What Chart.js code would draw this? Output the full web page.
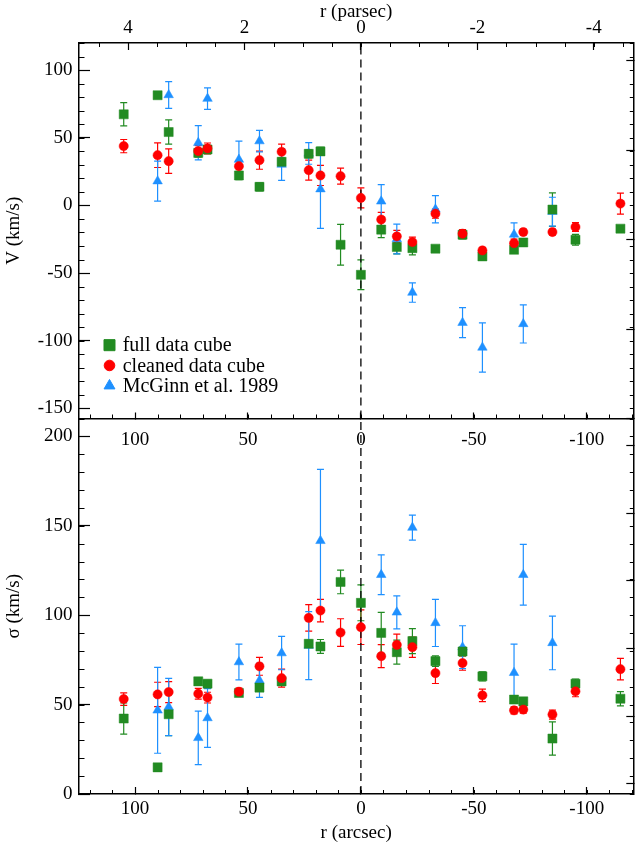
<!DOCTYPE html>
<html>
<head>
<meta charset="utf-8">
<script src="https://cdn.jsdelivr.net/npm/chart.js@4"></script>
<style>
html,body{margin:0;padding:0;background:#fff}
#wrap{width:643px;height:848px;position:relative}
</style>
</head>
<body>
<div id="wrap"><canvas id="c"></canvas></div>
<script>
// slit positions (arcsec) shared by both data cubes
const rCube=[105,90,85.1,72,67.9,54,44.9,35.1,23.1,17.9,9,0,-9,-15.9,-22.8,-33,-45,-53.8,-67.8,-71.9,-84.8,-95,-114.9];
const vFull=[67.3,81.4,54.2,38.8,41.3,22.1,13.7,32.2,38.1,39.9,-29.1,-51.3,-17.9,-30.8,-31.6,-32,-21.7,-37.7,-32.8,-27.4,-3.1,-25.4,-17.2];
const vFullErr=[8.6,1.5,9,3,3,3,3,3,3,3,15,11,6,5,5,1.5,3,2,2,2,12.4,4,1.5];
const vClean=[43.8,37.1,32.7,40.1,42.1,29,33.4,39.6,26,22.1,21.6,5.5,-10.5,-22.9,-27.1,-6.1,-20.9,-33.3,-27.9,-19.7,-19.7,-16,1.3];
const vCleanErr=[4.9,9.1,9.1,4,4,4,6.7,5.7,7.4,7.4,5.9,7.4,5.4,4.4,3.7,3.4,3,2.2,3,2.2,2.2,3.2,7.8];
const sFull=[42.2,14.9,44.6,63,61.7,56.5,59.5,63,84,82.5,118.6,106.9,90.1,79.3,85.5,74.3,79.7,65.8,52.8,51.8,31,61.7,53.3];
const sFullErr=[8.7,1,12,2,2,1.5,2,2,2,3.9,6.6,10,11.5,6.7,7,3,2.5,2.5,1.5,1.5,9.3,2.5,4];
const sClean=[53.1,55.7,57,56.1,53.9,57.2,71.4,64.8,98.5,102.6,90.3,93.3,77.1,83.4,82.1,67.6,73.2,55.2,46.8,47.2,44.4,57.4,69.8];
const sCleanErr=[3.5,6.8,5.9,3,3,2,5,5,7.4,6.3,7.7,9.7,6.4,6,5.7,5.8,4,3.5,2,2,2.5,3,6];

// McGinn et al. 1989
const rMcV=[90,85.1,72,67.9,54,44.9,35.1,23.1,17.9,-9,-15.9,-22.8,-33,-45,-53.8,-67.8,-71.9,-84.8];
const vMc=[17.9,81.6,46.3,78.9,33.9,47.5,30.2,38.4,12,3,-24.9,-64.4,-2.9,-86.7,-105,-21.5,-87.6,-4.7];
const vMcErr=[14.8,9.9,12.6,8,13.6,8,11.7,8,29,12.4,11,7.2,10.1,11.1,18.2,8.5,14.1,10.7];
const rMcS=[90,85.1,72,67.9,54,44.9,35.1,23.1,17.9,-9,-15.9,-22.8,-33,-45,-67.8,-71.9,-84.8];
const sMc=[46.8,48.7,31.4,42.5,73.8,63.5,78.8,83,141.6,122.6,101.6,149,95.7,82.1,67.8,122.6,84.5];
const sMcErr=[24,16,15,16.4,10,9.5,9.3,19,40,11.1,9.2,7,13.2,12,16,17,15];

const legendLabels=['full data cube','cleaned data cube','McGinn et al. 1989'];

const xMin=-120.6,xMax=124.8,arcsecPerPc=25.77;
const vMin=-157.5,vMax=120,sMin=0,sMax=210;

const GREEN='#228b22',RED='#ff0000',BLUE='#1e90ff';
Chart.defaults.font.family='"Liberation Serif", serif';
Chart.defaults.font.size=19;
Chart.defaults.color='#000';

function pts(xs,ys){return xs.map((x,i)=>({x,y:ys[i]}));}
function series(data,err,yId,color,style,radius,order){
  return {data,errors:err,xAxisID:'x',yAxisID:yId,pointStyle:style,pointRadius:radius,pointHoverRadius:radius,
    backgroundColor:color,borderColor:color,borderWidth:0.5,errColor:color,showLine:false,order};
}
function zeroLine(yId,lo,hi){
  return {type:'line',data:[{x:0,y:lo},{x:0,y:hi}],xAxisID:'x',yAxisID:yId,borderColor:'#000',borderWidth:1.3,
    borderDash:[8,5],pointRadius:0,showLine:true,order:10};
}

const errorBars={id:'errorBars',beforeDatasetsDraw(chart){
  const ctx=chart.ctx;
  chart.data.datasets.forEach(ds=>{
    if(!ds.errors)return;
    const xs=chart.scales[ds.xAxisID],ys=chart.scales[ds.yAxisID];
    ctx.save();ctx.strokeStyle=ds.errColor;ctx.lineWidth=1.2;
    ds.data.forEach((p,j)=>{
      const e=ds.errors[j],x=xs.getPixelForValue(p.x);
      const y1=ys.getPixelForValue(p.y-e),y2=ys.getPixelForValue(p.y+e);
      ctx.beginPath();
      ctx.moveTo(x,y1);ctx.lineTo(x,y2);
      ctx.moveTo(x-3.5,y1);ctx.lineTo(x+3.5,y1);
      ctx.moveTo(x-3.5,y2);ctx.lineTo(x+3.5,y2);
      ctx.stroke();
    });
    ctx.restore();
  });
}};

const minorTicks={id:'minorTicks',afterDraw(chart){
  const ctx=chart.ctx,a=chart.chartArea,s=chart.scales;
  ctx.save();ctx.strokeStyle='#000';ctx.lineWidth=1;ctx.beginPath();
  [[s.yV,10],[s.yS,10]].forEach(([sc,step])=>{
    for(let v=Math.ceil(sc.min/step)*step;v<=sc.max;v+=step){
      const y=Math.round(sc.getPixelForValue(v))+0.5;
      ctx.moveTo(a.left,y);ctx.lineTo(a.left+5.5,y);
      ctx.moveTo(a.right,y);ctx.lineTo(a.right-3.5,y);
    }
  });
  const midY=s.yS.getPixelForValue(sMax);
  for(let v=Math.ceil(xMin/10)*10;v<=xMax;v+=10){
    const x=Math.round(s.x.getPixelForValue(v))+0.5;
    ctx.moveTo(x,a.bottom);ctx.lineTo(x,a.bottom-4);
    ctx.moveTo(x,midY);ctx.lineTo(x,midY-4);
  }
  for(let v=Math.ceil(s.xTop.min/0.5)*0.5;v<=s.xTop.max;v+=0.5){
    const x=Math.round(s.xTop.getPixelForValue(v))+0.5;
    ctx.moveTo(x,a.top);ctx.lineTo(x,a.top+4);
  }
  ctx.stroke();ctx.restore();
}};

const legendBox={id:'legendBox',afterDraw(chart){
  const ctx=chart.ctx,a=chart.chartArea,yV=chart.scales.yV;
  const marks=[['rect',GREEN,7.8],['circle',RED,5.3],['triangle',BLUE,6.3]];
  const y0=yV.getPixelForValue(-103.3);
  ctx.save();
  ctx.font='20px "Liberation Serif", serif';ctx.textBaseline='middle';
  legendLabels.forEach((t,i)=>{
    const y=y0+i*20.3;
    ctx.fillStyle=marks[i][1];ctx.strokeStyle=marks[i][1];
    Chart.helpers.drawPoint(ctx,{pointStyle:marks[i][0],radius:marks[i][2],borderWidth:0.5,rotation:0},a.left+30.5,y);
    ctx.fillStyle='#000';
    ctx.fillText(t,a.left+43.7,y+1);
  });
  ctx.restore();
}};

const yTicks=(pad)=>({stepSize:50,includeBounds:false,padding:pad,color:'#000',font:{size:19}});
const tickGrid=(len)=>({drawOnChartArea:false,tickLength:len,tickColor:'#000',tickWidth:1.2});
const frame={color:'#000',width:1.5};

new Chart(document.getElementById('c'),{
  type:'scatter',
  data:{datasets:[
    series(pts(rCube,vClean),vCleanErr,'yV',RED,'circle',4.6,0),
    series(pts(rCube,vFull),vFullErr,'yV',GREEN,'rect',6.4,1),
    series(pts(rMcV,vMc),vMcErr,'yV',BLUE,'triangle',5.5,2),
    series(pts(rCube,sClean),sCleanErr,'yS',RED,'circle',4.6,0),
    series(pts(rCube,sFull),sFullErr,'yS',GREEN,'rect',6.4,1),
    series(pts(rMcS,sMc),sMcErr,'yS',BLUE,'triangle',5.5,2),
    zeroLine('yV',vMin,vMax),
    zeroLine('yS',sMin,sMax)
  ]},
  options:{
    responsive:true,maintainAspectRatio:false,animation:false,
    layout:{padding:{left:0,right:9.7,top:0,bottom:0}},
    plugins:{legend:{display:false},tooltip:{enabled:false}},
    scales:{
      x:{type:'linear',axis:'x',position:'bottom',reverse:true,min:xMin,max:xMax,
        ticks:{stepSize:50,includeBounds:false,padding:10.6,color:'#000',font:{size:19}},
        grid:tickGrid(-7),border:frame,
        title:{display:true,text:'r (arcsec)',color:'#000',font:{size:19},padding:{top:0,bottom:4}},
        afterFit:s=>{s.height=54;}},
      xTop:{type:'linear',axis:'x',position:'top',reverse:true,min:xMin/arcsecPerPc,max:xMax/arcsecPerPc,
        ticks:{stepSize:2,includeBounds:false,padding:10.8,color:'#000',font:{size:19}},
        grid:tickGrid(-7),border:frame,
        title:{display:true,text:'r (parsec)',color:'#000',font:{size:19},padding:{top:1,bottom:0}},
        afterFit:s=>{s.height=43;}},
      xMid:{type:'linear',axis:'x',position:{yS:sMax},reverse:true,min:xMin,max:xMax,
        ticks:{stepSize:50,includeBounds:false,padding:17.6,color:'#000',font:{size:19}},
        grid:tickGrid(-7),border:frame},
      // the stacked layout puts the later-defined axis on top, so sigma comes first
      yS:{type:'linear',axis:'y',position:'left',stack:'panels',stackWeight:1,min:sMin,max:sMax,
        ticks:yTicks(17.5),grid:tickGrid(-11),border:frame,
        title:{display:true,text:'σ (km/s)',color:'#000',font:{size:19},padding:{top:2.6,bottom:0}},
        afterFit:s=>{s.width=79;}},
      yV:{type:'linear',axis:'y',position:'left',stack:'panels',stackWeight:1,min:vMin,max:vMax,
        ticks:yTicks(17.5),grid:tickGrid(-11),border:frame,
        title:{display:true,text:'V (km/s)',color:'#000',font:{size:19},padding:{top:2.6,bottom:0}},
        afterFit:s=>{s.width=79;}},
      ySr:{type:'linear',axis:'y',position:'right',stack:'panelsR',stackWeight:1,min:sMin,max:sMax,
        ticks:{stepSize:50,includeBounds:false,display:false},grid:tickGrid(-7),border:frame,
        afterFit:s=>{s.width=0;}},
      yVr:{type:'linear',axis:'y',position:'right',stack:'panelsR',stackWeight:1,min:vMin,max:vMax,
        ticks:{stepSize:50,includeBounds:false,display:false},grid:tickGrid(-7),border:frame,
        afterFit:s=>{s.width=0;}}
    }
  },
  plugins:[errorBars,minorTicks,legendBox]
});
</script>
</body>
</html>
